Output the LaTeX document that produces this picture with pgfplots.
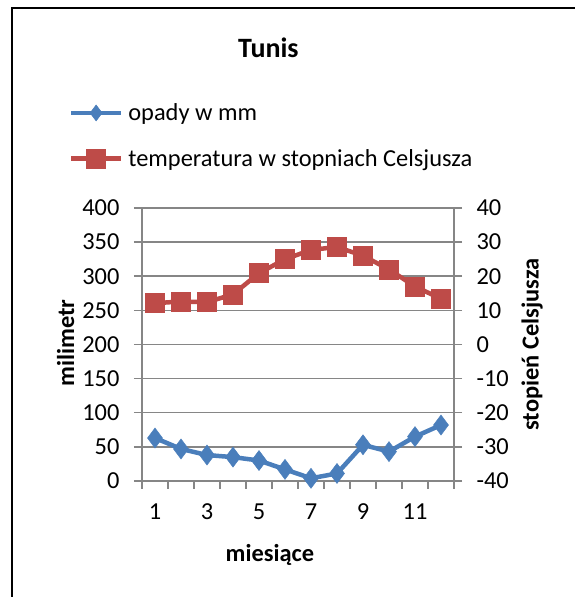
\documentclass[border=0pt]{standalone}
\usepackage{fontspec}
\setmainfont{Carlito}
\usepackage{pgfplots}
\pgfplotsset{compat=1.18}
\definecolor{sblue}{HTML}{4A7EBB}
\definecolor{sred}{HTML}{BE4B48}
\definecolor{agrey}{HTML}{868686}
\newcommand{\fs}{\fontsize{24.4}{29}\selectfont}
\begin{document}
\begin{tikzpicture}[x=1pt,y=1pt]
\useasboundingbox (0,0) rectangle (575,597);
\draw[line width=2pt, black] (11.5,-5) rectangle (585,588.5);
\pgfplotsset{
  base/.style={
    at={(142pt,116pt)}, anchor=south west,
    scale only axis, width=312pt, height=273pt,
    xmin=0.5, xmax=12.5,
    tick align=outside, major tick length=8pt,
    every tick/.style={agrey, line width=1.5pt},
    axis line style={agrey, line width=1.5pt},
    tick label style={font=\fs},
    label style={font=\fs\bfseries},
    /pgf/number format/assume math mode=true,
  },
  blues/.style={sblue, line width=4.5pt, mark=diamond*, mark size=10pt, mark options={solid, line width=0.5pt, fill=sblue}},
  reds/.style={sred, line width=4.5pt, mark=square*, mark size=9.5pt, mark options={solid, line width=0.5pt, fill=sred}},
}
\begin{axis}[base,
  ymin=0, ymax=400, ytick={0,50,...,400},
  axis y line*=left, axis x line*=bottom,
  ymajorgrids, grid style={agrey, line width=1.5pt},
  xtick={0.5,1.5,...,12.5}, xticklabels={},
  extra x ticks={1,3,5,7,9,11},
  extra x tick labels={1,3,5,7,9,11},
  extra x tick style={major tick length=0pt, xticklabel style={yshift=-19pt}},
  yticklabel style={xshift=-11pt},
  xlabel={miesiące}, xlabel style={at={(axis description cs:0.41,-0.27)}, anchor=center},
  ylabel={milimetr}, ylabel style={at={(axis description cs:-0.245,0.505)}, anchor=center},
  title={Tunis}, title style={font=\fontsize{28}{33}\selectfont\bfseries, at={(axis description cs:0.405,1.565)}, anchor=center},
]
\addplot[blues] coordinates {
(1,63) (2,47) (3,38) (4,35) (5,30) (6,17) (7,4) (8,11) (9,53) (10,43) (11,65) (12,82)};
\end{axis}
\begin{axis}[base,
  ymin=-40, ymax=40, ytick={-40,-30,...,40},
  yticklabels={-40,-30,-20,-10,0,10,20,30,40},
  axis y line*=right, axis x line=none,
  yticklabel style={xshift=11pt},
  ylabel={stopień Celsjusza}, ylabel style={at={(axis description cs:1.25,0.5)}, anchor=center},
  legend cell align=left,
  legend style={draw=none, fill=none, font=\fs, at={(axis description cs:-0.235,1.39)}, anchor=north west, row sep=23pt, inner sep=0pt,
    /tikz/every odd column/.append style={column sep=3pt}},
  legend image code/.code={\draw[mark repeat=2, mark phase=2, #1] plot coordinates {(0pt,0pt) (25pt,0pt) (50pt,0pt)};},
]
\addlegendimage{blues, mark size=8pt}
\addlegendentry{opady w mm}
\addplot[reds] coordinates {
(1,12.1) (2,12.6) (3,12.4) (4,14.7) (5,20.9) (6,25) (7,27.7) (8,28.6) (9,26) (10,22) (11,17) (12,13.4)};
\addlegendentry{temperatura w stopniach Celsjusza}
\end{axis}
\end{tikzpicture}
\end{document}
